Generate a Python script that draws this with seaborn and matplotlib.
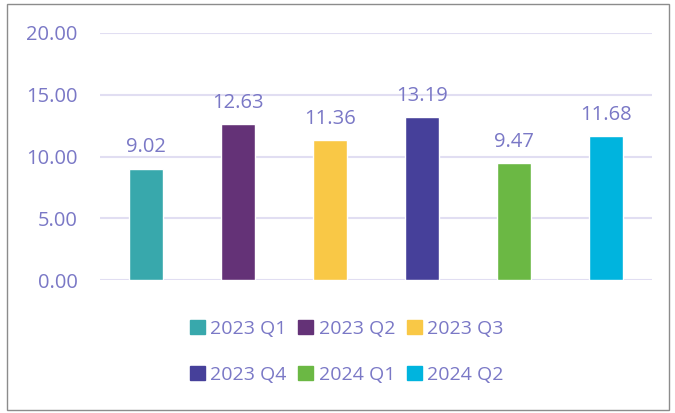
import matplotlib
matplotlib.use("Agg")
import matplotlib.pyplot as plt
import seaborn as sns
import pandas as pd
from matplotlib.patches import Rectangle

categories = ["2023 Q1", "2023 Q2", "2023 Q3", "2023 Q4", "2024 Q1", "2024 Q2"]
values = [9.02, 12.63, 11.36, 13.19, 9.47, 11.68]
colors = ["#38A8AC", "#643277", "#F9C846", "#46409A", "#6BB844", "#00B4DE"]
yticks = [0, 5, 10, 15, 20]

text_color = "#7A78C6"
grid_color = "#E1DEF2"

sns.set_theme(style="white")
plt.rcParams["font.family"] = ["Open Sans", "DejaVu Sans"]

df = pd.DataFrame({"quarter": categories, "value": values})

fig = plt.figure(figsize=(6.75, 4.13), dpi=100)
ax = fig.add_axes([100/675, 1 - 280/413, 552/675, (280 - 33)/413])

sns.barplot(data=df, x="quarter", y="value", hue="quarter", palette=colors,
            dodge=False, width=0.36, ax=ax, legend=False, saturation=1)

ax.set_ylim(0, 20)
ax.set_yticks(yticks)
ax.set_yticklabels([f"{t:.2f}" for t in yticks], color=text_color, fontsize=14.5)
ax.tick_params(axis="y", length=0, pad=16)
ax.set_xticks([])
ax.set_xlabel("")
ax.set_ylabel("")
for s in ax.spines.values():
    s.set_visible(False)
ax.yaxis.grid(True, color=grid_color, linewidth=1.5)
ax.set_axisbelow(True)

for i, v in enumerate(values):
    ax.annotate(f"{v:.2f}", (i, v), xytext=(0, 8), textcoords="offset points",
                ha="center", va="bottom", color=text_color, fontsize=14.5)

handles = [Rectangle((0, 0), 1, 1, color=c) for c in colors]
order = [0, 3, 1, 4, 2, 5]
fig.legend([handles[i] for i in order], [categories[i] for i in order],
           loc="center", bbox_to_anchor=(0.514, 1 - 352/413),
           ncol=3, frameon=False, fontsize=14, labelcolor=text_color,
           handlelength=0.75, handleheight=0.75, handletextpad=0.3,
           columnspacing=0.6, labelspacing=1.45)

fig.add_artist(Rectangle((7/675, 3/413), 662/675, 406/413, transform=fig.transFigure,
                         fill=False, edgecolor="#8C8C8C", linewidth=1))

fig.savefig("out.png", dpi=100)
